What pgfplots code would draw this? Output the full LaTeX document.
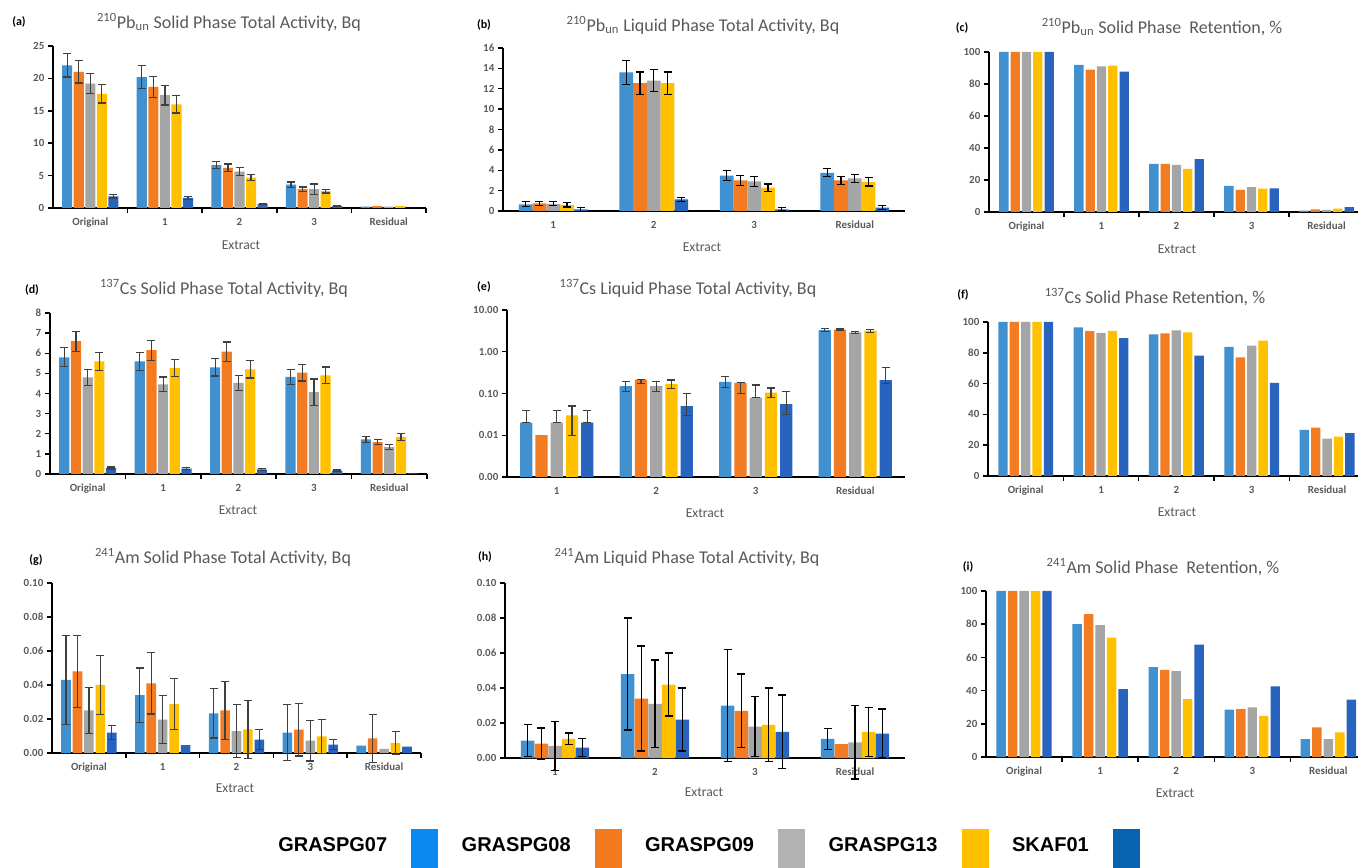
\documentclass[border=0pt]{standalone}
\usepackage{pgfplots}
\pgfplotsset{compat=1.18}
\usepackage{pgfplotstable}
\usepackage{fontspec}
\setmainfont{Carlito}
\newfontfamily\legfont{Liberation Sans}
\definecolor{cA}{HTML}{4190D0}
\definecolor{cB}{HTML}{F37B22}
\definecolor{cC}{HTML}{A5A5A5}
\definecolor{cD}{HTML}{FFC000}
\definecolor{cE}{HTML}{2864BE}
\definecolor{lA}{HTML}{0A8AF0}
\definecolor{lB}{HTML}{F47A20}
\definecolor{lC}{HTML}{B2B2B2}
\definecolor{lD}{HTML}{FFC000}
\definecolor{lE}{HTML}{0563B0}
\definecolor{txt}{HTML}{595959}
\definecolor{errg}{HTML}{404040}

% (a) 210Pb solid phase total activity
\pgfplotstableread{
x A Ae B Be C Ce D De E Ee
0 22.0 1.8 21.0 1.7 19.2 1.5 17.6 1.4 1.8 0.25
1 20.2 1.75 18.7 1.6 17.4 1.5 16.0 1.35 1.55 0.2
2 6.6 0.55 6.2 0.6 5.6 0.6 4.7 0.5 0.6 0.1
3 3.6 0.4 2.9 0.35 2.9 0.8 2.6 0.3 0.3 0.1
4 0.2 0 0.3 0 0.2 0 0.3 0 0.0 0
}\TabA
% (b) 210Pb liquid phase total activity
\pgfplotstableread{
x A Ae B Be C Ce D De E Ee
0 0.66 0.25 0.75 0.2 0.7 0.2 0.6 0.2 0.15 0.2
1 13.6 1.2 12.55 1.1 12.8 1.1 12.55 1.1 1.15 0.2
2 3.48 0.5 3.0 0.5 2.9 0.5 2.3 0.35 0.16 0.15
3 3.75 0.4 3.0 0.4 3.2 0.4 2.86 0.4 0.33 0.2
}\TabB
% (c) 210Pb retention
\pgfplotstableread{
x A B C D E
0 100 100 100 100 100
1 92 89 91 91.5 87.7
2 30 30 29.4 26.9 33.1
3 16.3 13.8 15.6 14.6 14.8
4 0.8 1.7 1.3 2.1 3.1
}\TabC
% (d) 137Cs solid phase total activity
\pgfplotstableread{
x A Ae B Be C Ce D De E Ee
0 5.8 0.47 6.6 0.5 4.8 0.4 5.6 0.45 0.3 0.05
1 5.6 0.45 6.15 0.5 4.45 0.37 5.26 0.43 0.27 0.04
2 5.3 0.43 6.08 0.48 4.53 0.37 5.2 0.43 0.23 0.04
3 4.83 0.38 5.04 0.42 4.07 0.65 4.9 0.42 0.17 0.03
4 1.72 0.16 1.58 0.13 1.33 0.12 1.85 0.18 0.03 0
}\TabD
% (e) 137Cs liquid phase total activity (log)
\pgfplotstableread{
x A Ap Am B Bp Bm C Cp Cm D Dp Dm E Ep Em
0 0.02 0.02 0 0.01 0 0 0.02 0.02 0 0.03 0.02 0.02 0.02 0.02 0
1 0.15 0.04 0.04 0.215 0 0.04 0.15 0.04 0.04 0.17 0.04 0.04 0.05 0.05 0.02
2 0.19 0.06 0.05 0.18 0 0.08 0.08 0.08 0 0.105 0.03 0.025 0.056 0.056 0.024
3 3.3 0.25 0.25 3.4 0.1 0.1 2.9 0.2 0.2 3.2 0.25 0.25 0.21 0.21 0.04
}\TabE
% (f) 137Cs retention
\pgfplotstableread{
x A B C D E
0 100 100 100 100 100
1 96.5 94 92.9 94.2 89.6
2 92 92.6 94.6 93.3 78.1
3 83.8 77 84.6 87.9 60.4
4 29.9 31.4 24.2 25.5 27.9
}\TabF
% (g) 241Am solid phase total activity
\pgfplotstableread{
x A Ae B Be C Ce D De E Ee
0 0.043 0.026 0.048 0.021 0.025 0.0135 0.040 0.0175 0.012 0.004
1 0.034 0.016 0.041 0.018 0.0196 0.014 0.0288 0.015 0.0047 0
2 0.0233 0.0145 0.025 0.017 0.0129 0.0157 0.0139 0.017 0.0078 0.0058
3 0.012 0.0165 0.0137 0.0155 0.0073 0.012 0.0098 0.01 0.0049 0.003
4 0.0043 0 0.0086 0.014 0.0025 0 0.0059 0.0068 0.0037 0
}\TabG
% (h) 241Am liquid phase total activity
\pgfplotstableread{
x A Ae B Be C Ce D De E Ee
0 0.010 0.009 0.0082 0.009 0.007 0.014 0.011 0.0033 0.006 0.005
1 0.048 0.032 0.034 0.030 0.031 0.025 0.042 0.018 0.022 0.018
2 0.030 0.032 0.027 0.021 0.018 0.017 0.019 0.021 0.015 0.021
3 0.011 0.006 0.008 0 0.009 0.021 0.015 0.014 0.014 0.014
}\TabH
% (i) 241Am retention
\pgfplotstableread{
x A B C D E
0 100 100 100 100 100
1 80 86 79.4 71.9 40.9
2 54.1 52.5 51.7 34.9 67.7
3 28.5 28.9 29.9 24.8 42.5
4 10.8 17.8 10.8 14.8 34.5
}\TabI

\newcommand{\Bars}[4]{\addplot[ybar, forget plot, fill=#1, draw=none, bar shift=#2] table[x=x, y=#4] {#3};}
\newcommand{\Errs}[6]{\addplot[forget plot, draw=none, mark=none,
   restrict expr to domain={\thisrow{#5}+\thisrow{#6}}{0.0000001:1000},
   error bars/.cd, y dir=both, y explicit,
   error bar style={draw=#1, line width=0.9pt},
   error mark options={rotate=90, draw=#1, line width=0.9pt, mark size=3pt}]
   table[x expr={\thisrow{x}+(#2)}, y=#4, y error plus=#5, y error minus=#6] {#3};}
\newcommand{\FiveBars}[6]{\Bars{cA}{#2}{#1}{A}\Bars{cB}{#3}{#1}{B}\Bars{cC}{#4}{#1}{C}\Bars{cD}{#5}{#1}{D}\Bars{cE}{#6}{#1}{E}}
\newcommand{\FiveErrs}[7]{\Errs{#1}{#3}{#2}{A}{Ae}{Ae}\Errs{#1}{#4}{#2}{B}{Be}{Be}\Errs{#1}{#5}{#2}{C}{Ce}{Ce}\Errs{#1}{#6}{#2}{D}{De}{De}\Errs{#1}{#7}{#2}{E}{Ee}{Ee}}

\pgfplotsset{
 panel/.style={scale only axis, anchor=south west, axis lines=left,
   axis line style={-, line width=1.4pt, black},
   enlargelimits=false, clip=false, ymin=0,
   tick align=outside, major tick length=0pt, minor tick length=3.5pt,
   tick style={black, line width=1.1pt},
   ticklabel style={font=\bfseries\fontsize{8.2}{9}\selectfont, text=txt},
   xticklabel style={yshift=-4pt}, yticklabel style={xshift=-3pt}},
 five/.style={panel, xmin=-0.5, xmax=4.5, xtick={0,1,2,3,4}, xticklabels={Original,1,2,3,Residual},
   minor xtick={0.5,1.5,2.5,3.5,4.5}},
 four/.style={panel, xmin=-0.5, xmax=3.5, xtick={0,1,2,3}, xticklabels={1,2,3,Residual}},
}
\tikzset{
 ttl/.style={font=\fontsize{13.5}{16}\selectfont, text=txt},
 lab/.style={font=\bfseries\fontsize{9}{11}\selectfont, text=black},
 ext/.style={font=\fontsize{10.2}{12}\selectfont, text=txt},
}

\begin{document}
\begin{tikzpicture}
\useasboundingbox (0,0) rectangle (1018.5pt,650.25pt);

% (a)
\begin{axis}[five, at={(39.75pt,494.25pt)}, width=279.75pt, height=121.5pt,
  ymax=25, ytick={0,5,10,15,20,25}, minor ytick={0,5,10,15,20,25}, yticklabels={0,5,10,15,20,25},
  bar width=0.135]
\FiveBars{\TabA}{-0.31}{-0.155}{0}{0.155}{0.31}
\FiveErrs{errg}{\TabA}{-0.31}{-0.155}{0}{0.155}{0.31}
\end{axis}

% (b)
\begin{axis}[four, at={(377.25pt,492pt)}, width=301.5pt, height=122.25pt,
  ymax=16, ytick={0,2,...,16}, minor ytick={0,2,...,16}, yticklabels={0,2,4,6,8,10,12,14,16},
  bar width=0.135]
\FiveBars{\TabB}{-0.274}{-0.137}{0}{0.137}{0.274}
\FiveErrs{black}{\TabB}{-0.274}{-0.137}{0}{0.137}{0.274}
\end{axis}

% (c)
\begin{axis}[five, at={(741.75pt,491.25pt)}, width=276.75pt, height=120pt, xmax=4.42,
  ymax=100, ytick={0,20,...,100}, minor ytick={0,20,...,100}, yticklabels={0,20,40,60,80,100},
  bar width=0.124]
\FiveBars{\TabC}{-0.302}{-0.151}{0}{0.151}{0.302}
\end{axis}

% (d)
\begin{axis}[five, at={(37.5pt,294.75pt)}, width=282.75pt, height=120.75pt,
  ymax=8, ytick={0,1,...,8}, minor ytick={0,1,...,8}, yticklabels={0,1,2,3,4,5,6,7,8},
  bar width=0.135]
\FiveBars{\TabD}{-0.31}{-0.155}{0}{0.155}{0.31}
\FiveErrs{errg}{\TabD}{-0.31}{-0.155}{0}{0.155}{0.31}
\end{axis}

% (e)
\begin{axis}[four, at={(380.25pt,292.5pt)}, width=298.5pt, height=125.25pt,
  ymode=log, ymin=0.001, ymax=10, log origin=infty,
  ytick={0.001,0.01,0.1,1,10}, minor ytick={0.001,0.01,0.1,1,10},
  yticklabels={0.00,0.01,0.10,1.00,10.00}, bar width=0.123]
\FiveBars{\TabE}{-0.306}{-0.153}{0}{0.153}{0.306}
\Errs{errg}{-0.306}{\TabE}{A}{Ap}{Am}
\Errs{errg}{-0.153}{\TabE}{B}{Bp}{Bm}
\Errs{errg}{0}{\TabE}{C}{Cp}{Cm}
\Errs{errg}{0.153}{\TabE}{D}{Dp}{Dm}
\Errs{errg}{0.306}{\TabE}{E}{Ep}{Em}
\end{axis}

% (f)
\begin{axis}[five, at={(741pt,293.25pt)}, width=277.5pt, height=115.5pt, xmax=4.41,
  ymax=100, ytick={0,20,...,100}, minor ytick={0,20,...,100}, yticklabels={0,20,40,60,80,100},
  bar width=0.124]
\FiveBars{\TabF}{-0.302}{-0.151}{0}{0.151}{0.302}
\end{axis}

% (g)
\begin{axis}[five, at={(39pt,85.5pt)}, width=276.75pt, height=127.5pt,
  ymax=0.1, ytick={0,0.02,0.04,0.06,0.08,0.1}, minor ytick={0,0.02,0.04,0.06,0.08,0.1},
  yticklabels={0.00,0.02,0.04,0.06,0.08,0.10}, bar width=0.13]
\FiveBars{\TabG}{-0.31}{-0.155}{0}{0.155}{0.31}
\FiveErrs{errg}{\TabG}{-0.31}{-0.155}{0}{0.155}{0.31}
\end{axis}

% (h) with legend
\begin{axis}[four, at={(378.75pt,81.75pt)}, width=300pt, height=131.25pt,
  ymax=0.1, ytick={0,0.02,0.04,0.06,0.08,0.1}, minor ytick={0,0.02,0.04,0.06,0.08,0.1},
  yticklabels={0.00,0.02,0.04,0.06,0.08,0.10}, bar width=0.135,
  legend plot pos=right,
  legend style={at={(axis description cs:-0.5675,-0.514)}, anchor=west, draw=none, fill=none,
    inner sep=0pt, legend columns=5, font=\legfont\bfseries\fontsize{15}{18}\selectfont,
    /tikz/column sep=18pt, nodes={inner sep=0pt}}]
\FiveBars{\TabH}{-0.274}{-0.137}{0}{0.137}{0.274}
\FiveErrs{black}{\TabH}{-0.274}{-0.137}{0}{0.137}{0.274}
\addlegendimage{legend image code/.code={\fill[lA] (0pt,-16pt) rectangle (19.5pt,12.5pt);}}
\addlegendentry{GRASPG07}
\addlegendimage{legend image code/.code={\fill[lB] (0pt,-16pt) rectangle (19.5pt,12.5pt);}}
\addlegendentry{GRASPG08}
\addlegendimage{legend image code/.code={\fill[lC] (0pt,-16pt) rectangle (19.5pt,12.5pt);}}
\addlegendentry{GRASPG09}
\addlegendimage{legend image code/.code={\fill[lD] (0pt,-16pt) rectangle (19.5pt,12.5pt);}}
\addlegendentry{GRASPG13}
\addlegendimage{legend image code/.code={\fill[lE] (0pt,-16pt) rectangle (19.5pt,12.5pt);}}
\addlegendentry{SKAF01}
\end{axis}

% (i)
\begin{axis}[five, at={(739.5pt,82.5pt)}, width=279pt, height=124.5pt, xmax=4.39,
  ymax=100, ytick={0,20,...,100}, minor ytick={0,20,...,100}, yticklabels={0,20,40,60,80,100},
  bar width=0.124]
\FiveBars{\TabI}{-0.302}{-0.151}{0}{0.151}{0.302}
\end{axis}

% titles, panel letters, axis names
\node[ttl] at (171.75pt,633.75pt) {\textsuperscript{210}Pb\textsubscript{un} Solid Phase Total Activity, Bq};
\node[ttl] at (527.25pt,631.5pt) {\textsuperscript{210}Pb\textsubscript{un} Liquid Phase Total Activity, Bq};
\node[ttl] at (871.5pt,630pt) {\textsuperscript{210}Pb\textsubscript{un} Solid Phase\ \ Retention, \%};
\node[ttl] at (168pt,434.25pt) {\textsuperscript{137}Cs Solid Phase Total Activity, Bq};
\node[ttl] at (516pt,434.25pt) {\textsuperscript{137}Cs Liquid Phase Total Activity, Bq};
\node[ttl] at (866.25pt,427.5pt) {\textsuperscript{137}Cs Solid Phase Retention, \%};
\node[ttl] at (167.25pt,232.5pt) {\textsuperscript{241}Am Solid Phase Total Activity, Bq};
\node[ttl] at (515.25pt,232.5pt) {\textsuperscript{241}Am Liquid Phase Total Activity, Bq};
\node[ttl] at (872.25pt,225pt) {\textsuperscript{241}Am Solid Phase\ \ Retention, \%};

\node[lab] at (14.25pt,633.75pt) {(a)};
\node[lab] at (363pt,631.5pt) {(b)};
\node[lab] at (721.5pt,629.25pt) {(c)};
\node[lab] at (24pt,432.75pt) {(d)};
\node[lab] at (363pt,435pt) {(e)};
\node[lab] at (722.25pt,429pt) {(f)};
\node[lab] at (27pt,230.25pt) {(g)};
\node[lab] at (363.75pt,232.5pt) {(h)};
\node[lab] at (726pt,225pt) {(i)};

\node[ext] at (180.75pt,466.5pt) {Extract};
\node[ext] at (526.5pt,465pt) {Extract};
\node[ext] at (882.75pt,463.5pt) {Extract};
\node[ext] at (178.5pt,267.75pt) {Extract};
\node[ext] at (528.75pt,265.5pt) {Extract};
\node[ext] at (882.75pt,266.25pt) {Extract};
\node[ext] at (176.25pt,59.25pt) {Extract};
\node[ext] at (528pt,56.25pt) {Extract};
\node[ext] at (881.25pt,55.5pt) {Extract};
\end{tikzpicture}
\end{document}
